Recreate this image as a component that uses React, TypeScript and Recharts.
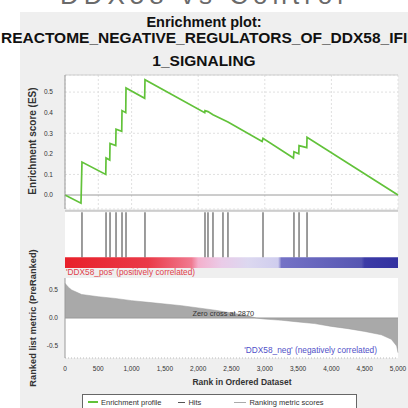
import React from "react";
import {
  Area,
  Bar,
  CartesianGrid,
  ComposedChart,
  Line,
  ReferenceArea,
  ReferenceDot,
  ReferenceLine,
  XAxis,
  YAxis,
} from "recharts";

// running enrichment score, read at the hit positions
const esRanks = [
  0, 240, 255, 612, 616, 672, 676, 762, 766, 852, 856, 912, 916, 1196, 1201,
  2098, 2102, 2147, 2222, 2447, 2960, 2973, 3430, 3438, 3510, 3514, 3630, 3634,
  5000,
];
const esScores = [
  0.0, -0.04, 0.16, 0.1, 0.18, 0.17, 0.25, 0.24, 0.32, 0.31, 0.41, 0.4, 0.52,
  0.47, 0.56, 0.4, 0.41, 0.405, 0.39, 0.355, 0.26, 0.275, 0.18, 0.21, 0.2,
  0.24, 0.23, 0.28, 0.0,
];

const hitRanks = [
  255, 616, 676, 766, 856, 916, 1201, 2102, 2147, 2222, 2372, 2447, 2973, 3438,
  3514, 3634,
];

const metricRanks = [
  0, 50, 100, 250, 500, 750, 1000, 1250, 1500, 1750, 2000, 2250, 2500, 2750,
  2870, 3000, 3250, 3500, 3750, 4000, 4250, 4500, 4750, 4900, 4980, 5000,
];
const metricScores = [
  0.62, 0.55, 0.5, 0.42, 0.38, 0.35, 0.31, 0.28, 0.25, 0.22, 0.18, 0.14, 0.09,
  0.04, 0.0, -0.02, -0.04, -0.07, -0.1, -0.15, -0.19, -0.24, -0.3, -0.38, -0.5,
  -0.62,
];
const zeroCross = 2870;

const rankTicks = [0, 500, 1000, 1500, 2000, 2500, 3000, 3500, 4000, 4500, 5000];
const esTicks = [0, 0.1, 0.2, 0.3, 0.4, 0.5];
const metricTicks = [-0.5, 0, 0.5];

// colour bar under the hits: rank where each colour sits
const barRanks = [0, 1250, 1900, 2000, 2350, 2750, 3200, 3250, 4450, 4500, 5000];
const barColors = [
  "#e8202a", "#ea3a48", "#f07a90", "#f4b0cc", "#eacbe8", "#dcd8f0",
  "#cfcdee", "#7472c6", "#5656b2", "#3c3ba6", "#3231a0",
];

const BAR_TOP = 0.19; // share of the hits strip taken by the colour bar

const esData = esRanks.map((rank, i) => ({ rank, es: esScores[i] }));
const metricData = metricRanks.map((rank, i) => ({ rank, metric: metricScores[i] }));
const hitData = hitRanks.map((rank) => ({ rank, hit: [BAR_TOP, 0.98] }));

const FONT = "'Liberation Sans', Arial, sans-serif";
const W = 408;
const esDomain = [-0.068, 0.583];
const metricDomain = [-0.714, 0.714];

const abs = (s: React.CSSProperties): React.CSSProperties => ({
  position: "absolute",
  fontFamily: FONT,
  ...s,
});

export default function App() {
  return (
    <div
      style={{
        position: "absolute",
        left: 0,
        top: 0,
        width: W,
        height: 408,
        overflow: "hidden",
        background: "#fff",
        fontFamily: FONT,
      }}
    >
      <div style={abs({ left: 20, top: 12, right: 0, bottom: 0, background: "#efefef" })} />
      <div
        style={abs({
          left: 0,
          width: W,
          top: -18,
          fontSize: 26,
          lineHeight: "26px",
          color: "#6a6a6a",
          textAlign: "center",
          letterSpacing: 5,
        })}
      >
        DDX58 vs Control
      </div>

      {/* title */}
      <div style={abs({ left: 0, width: W, top: 15, fontSize: 14.5, fontWeight: "bold", textAlign: "center", lineHeight: "15px", color: "#111" })}>
        Enrichment plot:
      </div>
      <div
        style={abs({
          left: 1,
          width: W - 1,
          top: 30,
          fontSize: 15.5,
          fontWeight: "bold",
          lineHeight: "15px",
          color: "#111",
          whiteSpace: "nowrap",
          overflow: "hidden",
        })}
      >
        REACTOME_NEGATIVE_REGULATORS_OF_DDX58_IFIH
      </div>
      <div style={abs({ left: 0, width: W, top: 53, fontSize: 15.5, fontWeight: "bold", textAlign: "center", lineHeight: "15px", color: "#111" })}>
        1_SIGNALING
      </div>

      {/* enrichment score panel */}
      <div style={abs({ left: 0, top: 60 })}>
        <ComposedChart width={W} height={155} data={esData} margin={{ top: 15, right: 10, bottom: 6, left: 0 }}>
          <CartesianGrid fill="#fff" stroke="#e0e0e0" strokeDasharray="2 2" />
          <XAxis type="number" dataKey="rank" domain={[0, 5000]} ticks={rankTicks} hide />
          <YAxis
            type="number"
            width={65}
            domain={esDomain}
            ticks={esTicks}
            allowDataOverflow
            tickLine={false}
            tickMargin={6}
            axisLine={{ stroke: "#999" }}
            tick={{ fontSize: 6.5, fill: "#333", fontFamily: FONT }}
            tickFormatter={(v: number) => v.toFixed(1)}
          />
          <ReferenceLine y={esDomain[1]} stroke="#cfcfcf" />
          <ReferenceLine y={0} stroke="#9a9a9a" />
          <Line
            dataKey="es"
            type="linear"
            stroke="#62c23a"
            strokeWidth={1.7}
            dot={false}
            isAnimationActive={false}
          />
        </ComposedChart>
      </div>

      {/* hits + colour bar */}
      <div style={abs({ left: 0, top: 205 })}>
        <ComposedChart width={W} height={70} data={hitData} margin={{ top: 6, right: 10, bottom: 7, left: 0 }}>
          <defs>
            <linearGradient id="rankBar" x1="0" y1="0" x2="1" y2="0">
              {barRanks.map((r, i) => (
                <stop key={i} offset={r / 5000} stopColor={barColors[i]} />
              ))}
            </linearGradient>
          </defs>
          <CartesianGrid fill="#fff" horizontal={false} vertical={false} />
          <XAxis type="number" dataKey="rank" domain={[0, 5000]} hide />
          <YAxis type="number" width={65} domain={[0, 1]} tick={false} tickLine={false} axisLine={false} />
          <ReferenceArea x1={0} x2={5000} y1={0} y2={BAR_TOP} fill="url(#rankBar)" fillOpacity={1} stroke="none" />
          <Bar dataKey="hit" barSize={1} fill="#3a3a3a" isAnimationActive={false} />
          <ReferenceLine y={1} stroke="#aaa" />
        </ComposedChart>
      </div>
      <div style={abs({ left: 66, top: 267, fontSize: 8.3, color: "#e0404a", whiteSpace: "nowrap" })}>
        'DDX58_pos' (positively correlated)
      </div>

      {/* ranked list metric panel */}
      <div style={abs({ left: 0, top: 270 })}>
        <ComposedChart width={W} height={110} data={metricData} margin={{ top: 8, right: 10, bottom: 0, left: 0 }}>
          <CartesianGrid fill="#fff" horizontal={false} vertical={false} />
          <XAxis
            type="number"
            dataKey="rank"
            domain={[0, 5000]}
            ticks={rankTicks}
            interval={0}
            height={22}
            tickSize={4}
            tickLine={false}
            tickMargin={4}
            axisLine={{ stroke: "#bbb", strokeDasharray: "1 2" }}
            tick={{ fontSize: 6.5, fill: "#333", fontFamily: FONT }}
            tickFormatter={(v: number) => v.toLocaleString("en-US")}
          />
          <YAxis
            type="number"
            width={65}
            domain={metricDomain}
            ticks={metricTicks}
            tickLine={false}
            tickMargin={1}
            axisLine={{ stroke: "#999" }}
            tick={{ fontSize: 6.5, fill: "#333", fontFamily: FONT }}
            tickFormatter={(v: number) => v.toFixed(1)}
          />
          <Area
            dataKey="metric"
            type="linear"
            fill="#a9a9a9"
            fillOpacity={1}
            stroke="#999"
            strokeWidth={0.5}
            baseValue={0}
            isAnimationActive={false}
          />
          <ReferenceLine y={0} stroke="#999" />
          <ReferenceDot
            x={zeroCross}
            y={0}
            r={0}
            fill="none"
            stroke="none"
            label={(props: any) => {
              const vb = props.viewBox || {};
              return (
                <text x={vb.x - 2} y={vb.y - 2} textAnchor="end" fontSize={7.4} fill="#333" fontFamily={FONT}>
                  Zero cross at {zeroCross}
                </text>
              );
            }}
          />
        </ComposedChart>
      </div>
      <div style={abs({ right: 31, top: 345, fontSize: 8.3, color: "#5050c8", whiteSpace: "nowrap" })}>
        'DDX58_neg' (negatively correlated)
      </div>

      {/* axis titles */}
      <div
        style={abs({
          left: -47,
          top: 135,
          width: 160,
          height: 12,
          lineHeight: "12px",
          fontSize: 10,
          fontWeight: "bold",
          color: "#333",
          textAlign: "center",
          transform: "rotate(-90deg)",
        })}
      >
        Enrichment score (ES)
      </div>
      <div
        style={abs({
          left: -57,
          top: 312,
          width: 180,
          height: 12,
          lineHeight: "12px",
          fontSize: 9.3,
          fontWeight: "bold",
          color: "#333",
          textAlign: "center",
          transform: "rotate(-90deg)",
        })}
      >
        Ranked list metric (PreRanked)
      </div>
      <div style={abs({ left: 142, width: 200, top: 377, fontSize: 8.5, fontWeight: "bold", color: "#333", textAlign: "center" })}>
        Rank in Ordered Dataset
      </div>

      {/* legend */}
      <div
        style={abs({
          left: 82,
          top: 394,
          width: 275,
          height: 16,
          background: "#fff",
          border: "1px solid #666",
          boxSizing: "border-box",
          display: "flex",
          alignItems: "center",
          fontSize: 7.5,
          color: "#333",
          whiteSpace: "nowrap",
        })}
      >
        <span style={{ display: "inline-block", width: 10, height: 2, background: "#62c23a", marginLeft: 5, marginRight: 3 }} />
        Enrichment profile
        <span style={{ display: "inline-block", width: 7, height: 1, background: "#555", marginLeft: 17, marginRight: 3 }} />
        Hits
        <span style={{ display: "inline-block", width: 12, height: 1, background: "#aaa", marginLeft: 33, marginRight: 3 }} />
        Ranking metric scores
      </div>
    </div>
  );
}
